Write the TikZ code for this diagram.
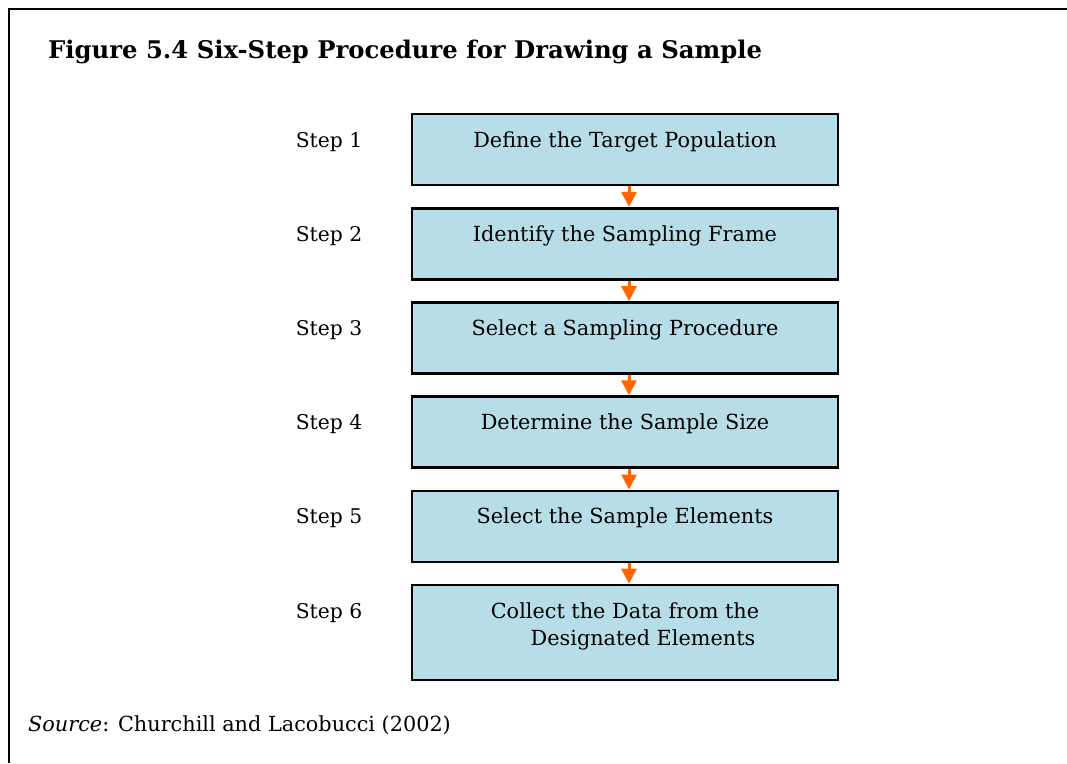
\documentclass[tikz,border=0pt]{standalone}
\usepackage{fontspec}
\setmainfont{DejaVu Serif}
\usetikzlibrary{arrows.meta}
\definecolor{boxfill}{HTML}{B7DDE8}
\definecolor{arrorange}{HTML}{FF6600}
\tikzset{
  stepbox/.style={draw=black, line width=2.6pt, fill=boxfill, minimum width=426pt, inner sep=0pt},
  boxtext/.style={anchor=base, font=\fontsize{20.8}{27}\selectfont, inner sep=0pt},
  steplabel/.style={anchor=base, font=\fontsize{20.3}{27}\selectfont, inner sep=0pt},
  flow/.style={draw=arrorange, line width=3pt, -{Triangle[length=15pt, width=15pt]}, shorten >=0pt},
}
\begin{document}
\begin{tikzpicture}[x=1pt, y=-1pt]
\useasboundingbox (0,0) rectangle (1067,763);
\fill[white] (0,0) rectangle (1067,763);
% frame
\draw[line width=2.6pt] (1067,9) -- (9,9) -- (9,763);
% title
\node[anchor=base west, inner sep=0pt, font=\fontsize{24.3}{30}\selectfont\bfseries] (title) at (48,58) {Figure 5.4 Six-Step Procedure for Drawing a Sample};
% boxes
\node[stepbox, minimum height=71pt] (b1) at (625,149.5) {};
\node[stepbox, minimum height=71pt] (b2) at (625,243.7) {};
\node[stepbox, minimum height=71pt] (b3) at (625,337.9) {};
\node[stepbox, minimum height=71pt] (b4) at (625,432.1) {};
\node[stepbox, minimum height=71pt] (b5) at (625,526.3) {};
\node[stepbox, minimum height=95pt] (b6) at (625,632.5) {};
% box texts
\node[boxtext] (t1) at (625,147) {Define the Target Population};
\node[boxtext] (t2) at (625,241.2) {Identify the Sampling Frame};
\node[boxtext] (t3) at (625,335.4) {Select a Sampling Procedure};
\node[boxtext] (t4) at (625,429.6) {Determine the Sample Size};
\node[boxtext] (t5) at (625,523.8) {Select the Sample Elements};
\node[boxtext] (t6a) at (625,618) {Collect the Data from the};
\node[boxtext] (t6b) at (643,645) {Designated Elements};
% step labels
\node[steplabel] (s1) at (329,147) {Step 1};
\node[steplabel] (s2) at (329,241.2) {Step 2};
\node[steplabel] (s3) at (329,335.4) {Step 3};
\node[steplabel] (s4) at (329,429.6) {Step 4};
\node[steplabel] (s5) at (329,523.8) {Step 5};
\node[steplabel] (s6) at (329,618) {Step 6};
% arrows
\foreach \a/\b in {b1/b2, b2/b3, b3/b4, b4/b5, b5/b6}
  \draw[flow] ([xshift=4pt]\a.south) -- ([xshift=4pt]\b.north);
% source
\node[anchor=base west, inner sep=0pt, font=\fontsize{20.8}{27}\selectfont] (src) at (28,731) {\textit{Source}: Churchill and Lacobucci (2002)};
\end{tikzpicture}
\end{document}
